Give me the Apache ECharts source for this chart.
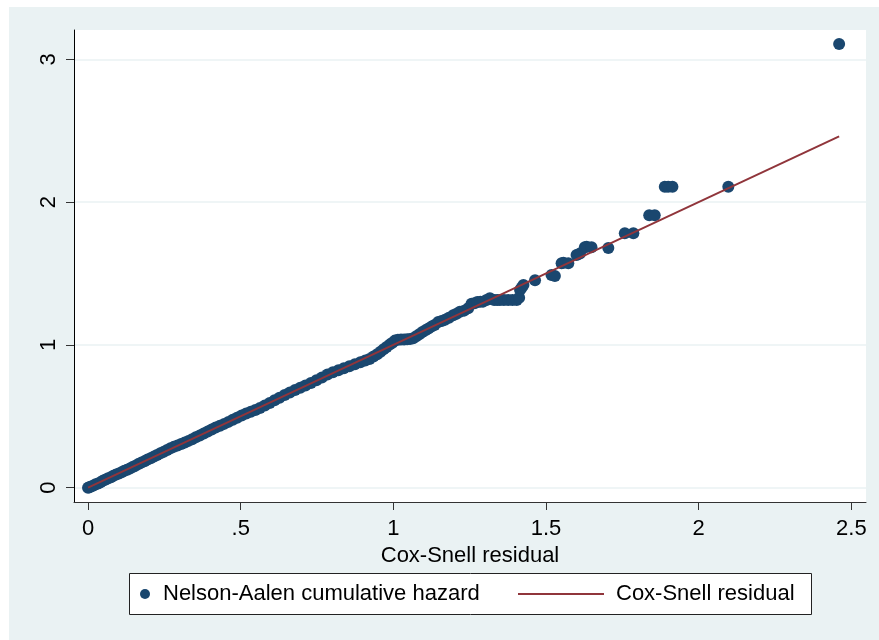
<!DOCTYPE html>
<html>
<head>
<meta charset="utf-8">
<script src="https://cdn.jsdelivr.net/npm/echarts@6/dist/echarts.min.js"></script>
<style>
  html, body { margin: 0; padding: 0; background: #ffffff; }
  #frame { position: absolute; left: 9px; top: 7px; width: 870px; height: 633px; background: #EAF2F3; }
  #chart { position: absolute; left: 0; top: 0; width: 879px; height: 640px; }
</style>
</head>
<body>
<div id="frame"></div>
<div id="chart"></div>
<script>
// Cox-Snell residuals against the Nelson-Aalen cumulative hazard
const residual = [
  0.000, 0.004, 0.010, 0.018, 0.025, 0.033, 0.041, 0.050, 0.058, 0.066,
  0.075, 0.083, 0.092, 0.101, 0.110, 0.119, 0.128, 0.137, 0.146, 0.155,
  0.165, 0.175, 0.185, 0.195, 0.205, 0.216, 0.226, 0.237, 0.248, 0.259,
  0.270, 0.281, 0.293, 0.305, 0.317, 0.329, 0.341, 0.353, 0.366, 0.379,
  0.392, 0.405, 0.418, 0.432, 0.446, 0.460, 0.474, 0.488, 0.503, 0.518,
  0.533, 0.548, 0.563, 0.579, 0.595, 0.611, 0.627, 0.644, 0.661, 0.678,
  0.695, 0.712, 0.730, 0.748, 0.766, 0.784, 0.802, 0.820, 0.838, 0.856,
  0.874, 0.892, 0.908, 0.922, 0.935, 0.947, 0.958, 0.968, 0.978, 0.988,
  0.997, 1.005, 1.015, 1.025, 1.035, 1.045, 1.055, 1.065, 1.075, 1.085,
  1.095, 1.105, 1.115, 1.125, 1.135, 1.147, 1.158, 1.169, 1.182, 1.196,
  1.207, 1.218, 1.232, 1.245, 1.256, 1.266, 1.275, 1.285, 1.294, 1.305,
  1.316, 1.330, 1.340, 1.349, 1.362, 1.376, 1.390, 1.404, 1.412, 1.415,
  1.420, 1.426, 1.464, 1.518, 1.529, 1.551, 1.557, 1.573, 1.600, 1.611,
  1.627, 1.633, 1.649, 1.704, 1.758, 1.786, 1.838, 1.856, 1.889, 1.900,
  1.914, 2.097, 2.460
];
const cumHazard = [
  0.000, 0.003, 0.008, 0.016, 0.024, 0.030, 0.039, 0.050, 0.058, 0.066,
  0.073, 0.083, 0.093, 0.100, 0.108, 0.118, 0.126, 0.135, 0.145, 0.154,
  0.166, 0.176, 0.186, 0.197, 0.207, 0.219, 0.229, 0.241, 0.252, 0.264,
  0.276, 0.286, 0.296, 0.306, 0.317, 0.328, 0.340, 0.353, 0.366, 0.380,
  0.394, 0.408, 0.421, 0.434, 0.447, 0.461, 0.476, 0.490, 0.505, 0.519,
  0.532, 0.545, 0.559, 0.575, 0.593, 0.612, 0.630, 0.649, 0.667, 0.684,
  0.700, 0.716, 0.733, 0.752, 0.772, 0.792, 0.808, 0.823, 0.836, 0.850,
  0.864, 0.878, 0.890, 0.902, 0.918, 0.935, 0.952, 0.970, 0.985, 1.002,
  1.015, 1.030, 1.036, 1.037, 1.038, 1.040, 1.042, 1.046, 1.060, 1.075,
  1.090, 1.102, 1.115, 1.128, 1.140, 1.160, 1.168, 1.176, 1.190, 1.207,
  1.218, 1.232, 1.240, 1.256, 1.288, 1.292, 1.300, 1.302, 1.303, 1.315,
  1.326, 1.314, 1.314, 1.314, 1.314, 1.314, 1.314, 1.314, 1.330, 1.384,
  1.400, 1.419, 1.452, 1.490, 1.483, 1.572, 1.576, 1.572, 1.630, 1.640,
  1.683, 1.688, 1.683, 1.678, 1.781, 1.781, 1.908, 1.908, 2.108, 2.108,
  2.108, 2.108, 3.107
];
// 45-degree reference line over the residual range
const refX = [0, 2.46];
const refY = [0, 2.46];

const xTickValues = [0, 0.5, 1, 1.5, 2, 2.5];
const xTickLabels = ['0', '.5', '1', '1.5', '2', '2.5'];
const yTickValues = [0, 1, 2, 3];
const yTickLabels = ['0', '1', '2', '3'];

const markerColor = '#1A476F';
const lineColor = '#90353B';
const font = 'Liberation Sans, Arial, Helvetica, sans-serif';

const chart = echarts.init(document.getElementById('chart'), null, { renderer: 'canvas' });

const option = {
  backgroundColor: 'transparent',
  animation: false,
  textStyle: { fontFamily: font },
  grid: {
    left: 74, top: 30, right: 13, bottom: 138,
    show: true, backgroundColor: '#ffffff', borderWidth: 0
  },
  xAxis: {
    type: 'value',
    min: -0.046, max: 2.548,
    name: 'Cox-Snell residual',
    nameLocation: 'middle',
    nameGap: 33,
    nameTextStyle: { fontSize: 22, color: '#000', fontFamily: font },
    axisLine: { show: true, onZero: false, lineStyle: { color: '#333', width: 1 } },
    axisTick: { show: true, length: 8, customValues: xTickValues, lineStyle: { color: '#333', width: 1 } },
    axisLabel: {
      customValues: xTickValues,
      margin: 16, fontSize: 22, color: '#000', fontFamily: font,
      formatter: v => xTickLabels[xTickValues.indexOf(v)] ?? ''
    },
    splitLine: { show: false }
  },
  yAxis: {
    type: 'value',
    min: -0.1, max: 3.205,
    axisLine: { show: true, onZero: false, lineStyle: { color: '#000', width: 1 } },
    axisTick: { show: true, length: 8, customValues: yTickValues, lineStyle: { color: '#333', width: 1 } },
    axisLabel: {
      customValues: yTickValues,
      rotate: 90, margin: 14, fontSize: 22, color: '#000', fontFamily: font,
      formatter: v => yTickLabels[yTickValues.indexOf(v)] ?? ''
    },
    splitLine: { show: true, lineStyle: { color: '#EAF2F3', width: 1.5 } }
  },
  legend: [
    {
      data: ['Nelson-Aalen cumulative hazard'],
      left: 140, top: 583, padding: 0, z: 10,
      icon: 'circle', itemWidth: 10, itemHeight: 10,
      selectedMode: false,
      textStyle: { fontSize: 22, lineHeight: 22, color: '#000', fontFamily: font, padding: [0, 0, 0, 8] }
    },
    {
      data: ['Cox-Snell residual'],
      left: 518, top: 583, padding: 0, z: 10,
      icon: 'rect', itemWidth: 86, itemHeight: 2,
      itemStyle: { color: lineColor },
      selectedMode: false,
      textStyle: { fontSize: 22, lineHeight: 22, color: '#000', fontFamily: font, padding: [0, 0, 0, 7] }
    }
  ],
  graphic: [
    {
      type: 'rect', z: 1,
      shape: { x: 129.5, y: 573.5, width: 682, height: 41 },
      style: { fill: '#ffffff', stroke: '#222', lineWidth: 1 }
    }
  ],
  series: [
    {
      name: 'Nelson-Aalen cumulative hazard',
      type: 'scatter',
      symbol: 'circle',
      symbolSize: 12,
      itemStyle: { color: markerColor, opacity: 1 },
      data: residual.map((x, i) => [x, cumHazard[i]]),
      z: 2
    },
    {
      name: 'Cox-Snell residual',
      type: 'line',
      symbol: 'none',
      lineStyle: { color: lineColor, width: 2 },
      itemStyle: { color: lineColor },
      data: refX.map((x, i) => [x, refY[i]]),
      z: 3
    }
  ]
};

chart.setOption(option);
</script>
</body>
</html>
